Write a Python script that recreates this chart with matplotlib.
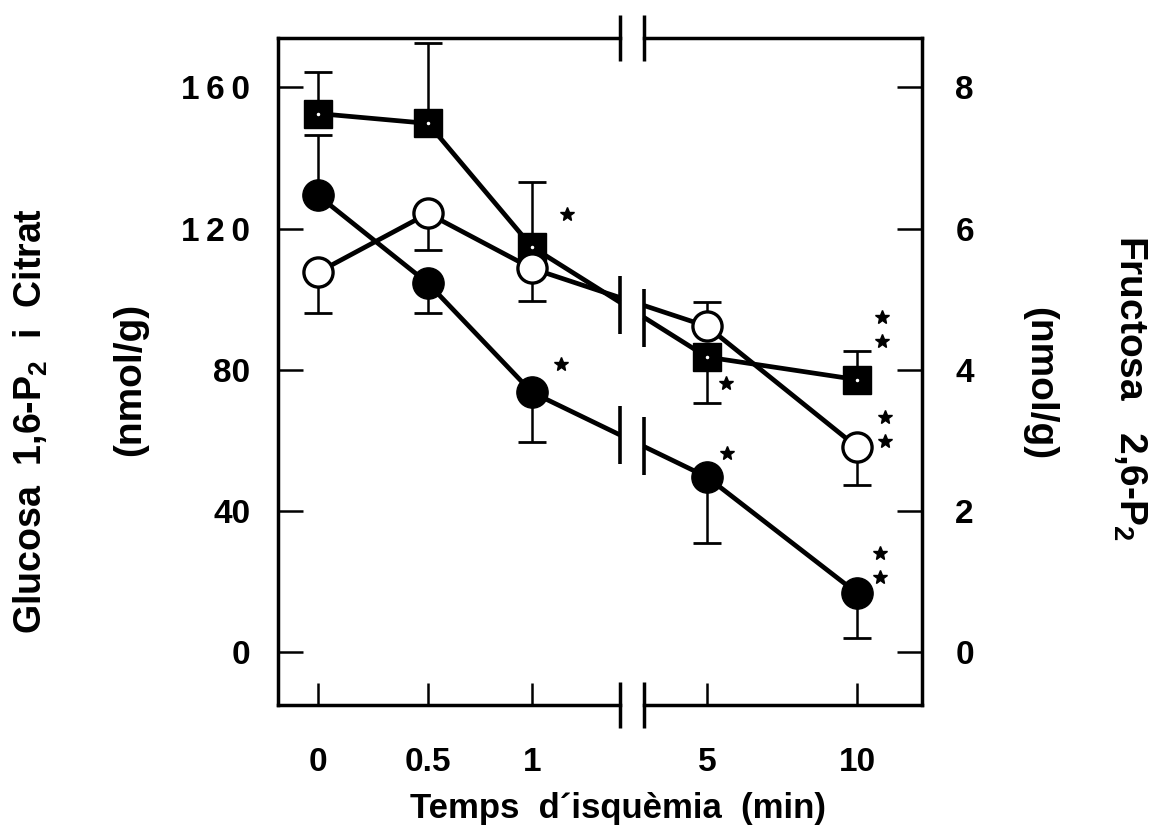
import numpy as np
import matplotlib
matplotlib.use('Agg')
import matplotlib.pyplot as plt
from matplotlib.transforms import offset_copy, blended_transform_factory

plt.rcParams['font.family'] = ['Liberation Sans', 'DejaVu Sans']
plt.rcParams['font.weight'] = 'bold'
plt.rcParams['mathtext.fontset'] = 'custom'
plt.rcParams['mathtext.rm'] = 'Liberation Sans:bold'
plt.rcParams['mathtext.it'] = 'Liberation Sans:bold'
plt.rcParams['mathtext.bf'] = 'Liberation Sans:bold'

# ---------------- data ----------------
times = ['0', '0.5', '1', '5', '10']
# filled circles (left axis, nmol/g)
glc_mean = [129.4, 104.5, 73.6, 49.6, 16.7]
glc_err_lo = [0, 8.5, 14.1, 18.7, 12.7]
glc_err_hi = [17.0, 0, 0, 0, 0]
glc_sig = [0, 0, 1, 1, 2]
# open circles (left axis, nmol/g)
cit_mean = [107.6, 124.3, 108.7, 92.3, 58.1]
cit_err_lo = [11.6, 10.5, 9.3, 0, 10.8]
cit_err_hi = [0, 0, 0, 6.8, 0]
cit_sig = [0, 0, 0, 0, 2]
# filled squares (right axis, nmol/g)
fru_mean = [7.63, 7.49, 5.74, 4.18, 3.86]
fru_err_lo = [0, 0, 0, 0.65, 0]
fru_err_hi = [0.59, 1.14, 0.92, 0, 0.41]
fru_sig = [0, 0, 1, 1, 2]

left_ticks = [0, 40, 80, 120, 160]
left_ticklabels = ['0', '40', '80', '1\u20092\u20090', '1\u20096\u20090']
right_ticks = [0, 2, 4, 6, 8]

# ---------------- layout ----------------
x_pos = np.array([0.0, 1.0, 1.945, 3.536, 4.9])   # positions on the broken time axis
brk = (2.745, 2.96)                                 # axis break
XL = (-0.364, 5.49)
YL = (-15, 174)
RATIO = 20.0

fig = plt.figure(figsize=(11.5, 8.34), dpi=100)
ax = fig.add_axes([0.2417, 0.1547, 0.56, 0.7997])
ax2 = ax.twinx()
ax.set_zorder(ax2.get_zorder() + 1)
ax.patch.set_visible(False)

ax.set_xlim(*XL)
ax.set_ylim(*YL)
ax2.set_ylim(YL[0] / RATIO, YL[1] / RATIO)

LW = 2.5
for a in (ax, ax2):
    for s in a.spines.values():
        s.set_visible(False)
ax.spines['left'].set_visible(True)
ax.spines['right'].set_visible(True)
ax.spines['left'].set_linewidth(LW)
ax.spines['right'].set_linewidth(LW)

trans = blended_transform_factory(ax.transData, ax.transAxes)
for yy in (0, 1):
    ax.plot([XL[0], brk[0]], [yy, yy], color='black', lw=LW, transform=trans,
            clip_on=False, solid_capstyle='projecting')
    ax.plot([brk[1], XL[1]], [yy, yy], color='black', lw=LW, transform=trans,
            clip_on=False, solid_capstyle='projecting')
    for bx in brk:
        ax.plot([bx, bx], [yy - 0.034, yy + 0.034], color='black', lw=LW,
                transform=trans, clip_on=False, solid_capstyle='butt')

ax.set_xticks(x_pos)
ax.set_xticklabels(times)
ax.set_yticks(left_ticks)
ax.set_yticklabels(left_ticklabels)
ax2.set_yticks(right_ticks)
ax.tick_params(axis='x', direction='in', length=16, width=1.8, pad=30, labelsize=24)
ax.tick_params(axis='y', direction='in', length=18, width=1.8, pad=20, labelsize=24,
               right=False)
ax2.tick_params(axis='y', direction='in', length=18, width=1.8, pad=24, labelsize=24)


def broken_line(axis, xs, ys):
    xs = np.asarray(xs, float)
    ys = np.asarray(ys, float)
    yl = np.interp(brk[0], xs, ys)
    yr = np.interp(brk[1], xs, ys)
    lx = list(xs[:3]) + [brk[0], np.nan, brk[1]] + list(xs[3:])
    ly = list(ys[:3]) + [yl, np.nan, yr] + list(ys[3:])
    axis.plot(lx, ly, color='black', lw=3.4, zorder=2, solid_capstyle='butt')
    return yl, yr


EB = dict(fmt='none', ecolor='black', elinewidth=1.8, capsize=10, capthick=2.0, zorder=1)

# squares (right axis)
ax2.errorbar(x_pos, fru_mean, yerr=[fru_err_lo, fru_err_hi], **EB)
broken_line(ax2, x_pos, fru_mean)
ax2.plot(x_pos, fru_mean, ls='none', marker='s', ms=20, mfc='black', mec='black', zorder=3)
ax2.plot(x_pos, fru_mean, ls='none', marker='.', ms=3, mfc='white', mec='white', zorder=4)

# open circles
ax.errorbar(x_pos, cit_mean, yerr=[cit_err_lo, cit_err_hi], **EB)
broken_line(ax, x_pos, cit_mean)
ax.plot(x_pos, cit_mean, ls='none', marker='o', ms=21, mfc='white', mec='black', mew=2.4, zorder=3)

# filled circles
ax.errorbar(x_pos, glc_mean, yerr=[glc_err_lo, glc_err_hi], **EB)
broken_line(ax, x_pos, glc_mean)
ax.plot(x_pos, glc_mean, ls='none', marker='o', ms=22.5, mfc='black', mec='black', zorder=3)

# break marks on the lines
fru_left = np.array(fru_mean) * RATIO
up_l = (np.interp(brk[0], x_pos, fru_left) + np.interp(brk[0], x_pos, cit_mean)) / 2
up_r = (np.interp(brk[1], x_pos, fru_left) + np.interp(brk[1], x_pos, cit_mean)) / 2
lo_l = np.interp(brk[0], x_pos, glc_mean)
lo_r = np.interp(brk[1], x_pos, glc_mean)
H = 8.2
for bx, yc in ((brk[0], up_l - 1.5), (brk[1], up_r - 2), (brk[0], lo_l), (brk[1], lo_r)):
    ax.plot([bx, bx], [yc - H, yc + H], color='black', lw=2.6, zorder=4, solid_capstyle='butt')

# significance stars (offsets in pixels)
def stars(axis, means, sig, offs):
    for xi, yi, n, (dx, dy) in zip(x_pos, means, sig, offs):
        for k in range(n):
            tr = offset_copy(axis.transData, fig=fig, x=dx, y=dy + 24 * k, units='dots')
            axis.plot([xi], [yi], ls='none', marker='*', ms=10, color='black',
                      transform=tr, clip_on=False, zorder=5)

stars(ax2, fru_mean, fru_sig, [(0, 0), (0, 0), (35, 33), (19, -26), (25, 39)])
stars(ax, cit_mean, cit_sig, [(0, 0), (0, 0), (0, 0), (0, 0), (28, 6)])
stars(ax, glc_mean, glc_sig, [(0, 0), (0, 0), (29, 28), (20, 24), (23, 16)])

# axis labels
fig.text(0.537, 0.031, 'Temps  d\u00b4isqu\u00e8mia  (min)', ha='center', va='center',
         fontsize=25, fontweight='bold')
fig.text(0.027, 0.495, 'Glucosa  1,6-P$_2$  i  Citrat', rotation=90, ha='center',
         va='center', fontsize=27, fontweight='bold')
fig.text(0.113, 0.545, '(nmol/g)', rotation=90, ha='center', va='center',
         fontsize=28, fontweight='bold')
fig.text(0.982, 0.535, 'Fructosa   2,6-P$_2$', rotation=-90, ha='center', va='center',
         fontsize=28, fontweight='bold')
fig.text(0.904, 0.54, '(nmol/g)', rotation=-90, ha='center', va='center',
         fontsize=28, fontweight='bold')

fig.savefig('out.png', dpi=100)
